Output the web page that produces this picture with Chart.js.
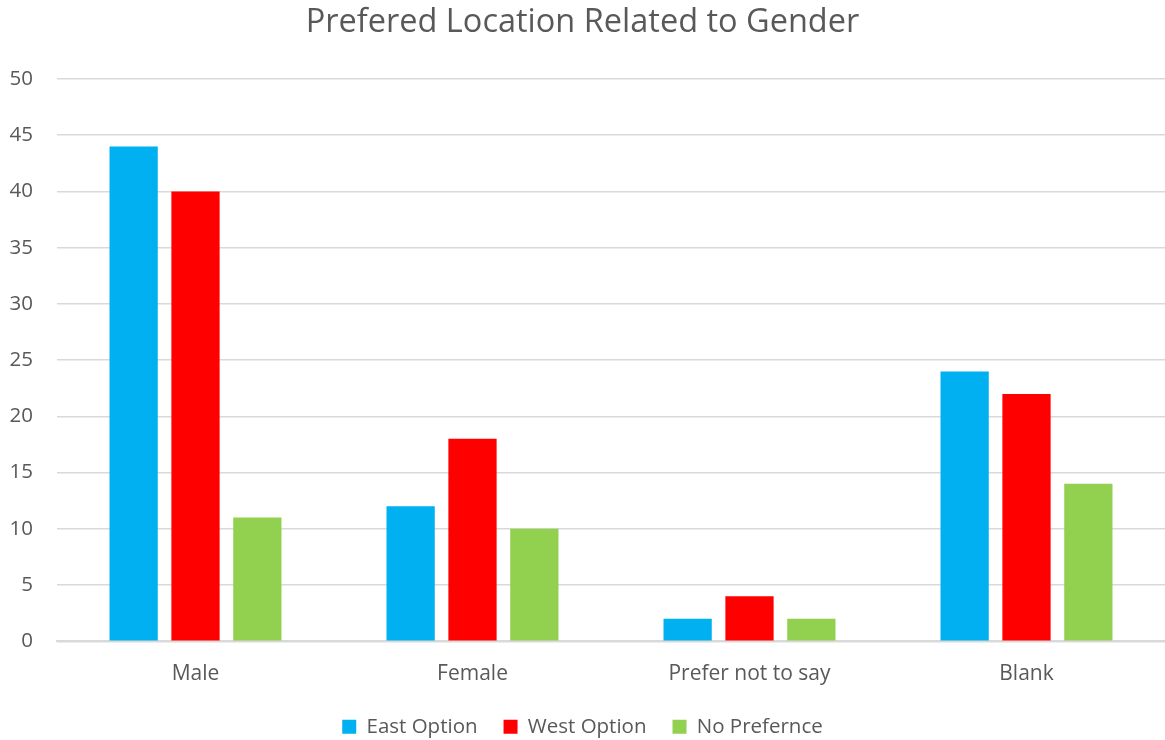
<!DOCTYPE html>
<html>
<head>
<meta charset="utf-8">
<script src="https://cdn.jsdelivr.net/npm/chart.js@4"></script>
<style>
  html, body { margin: 0; padding: 0; background: #fff; }
  #wrap { width: 1165px; height: 740px; }
</style>
</head>
<body>
<div id="wrap"><canvas id="chart"></canvas></div>
<script>
const categories = ["Male", "Female", "Prefer not to say", "Blank"];
const eastOption = [44, 12, 2, 24];
const westOption = [40, 18, 4, 22];
const noPreference = [11, 10, 2, 14];
const seriesNames = ["East Option", "West Option", "No Prefernce"];
const seriesColors = ["#00B0F0", "#FF0000", "#92D050"];

const textColor = "#595959";
const fontFamily = "'Open Sans', 'Noto Sans', sans-serif";

const datasets = [eastOption, westOption, noPreference].map((values, i) => ({
  label: seriesNames[i],
  data: values,
  backgroundColor: seriesColors[i],
  borderWidth: 0,
  barPercentage: 0.78,
  categoryPercentage: 0.67,
}));

new Chart(document.getElementById("chart"), {
  type: "bar",
  data: { labels: categories, datasets },
  options: {
    responsive: true,
    maintainAspectRatio: false,
    animation: false,
    layout: { padding: { left: 0, right: 0, top: 0, bottom: -7 } },
    plugins: {
      title: {
        display: true,
        text: "Prefered Location Related to Gender",
        color: textColor,
        font: { family: fontFamily, size: 32.5, weight: "normal" },
        padding: { top: 3, bottom: 37 },
      },
      legend: {
        position: "bottom",
        labels: {
          color: textColor,
          font: { family: fontFamily, size: 20.5 },
          boxWidth: 14,
          boxHeight: 14,
          padding: 26,
        },
      },
      tooltip: { enabled: false },
    },
    scales: {
      x: {
        grid: { display: false },
        border: { display: true, color: "#D9D9D9", width: 2 },
        ticks: {
          color: textColor,
          font: { family: fontFamily, size: 21 },
          padding: 12,
          maxRotation: 0,
        },
        afterFit: (axis) => { axis.height -= 8; },
      },
      y: {
        min: 0,
        max: 50,
        ticks: {
          stepSize: 5,
          color: textColor,
          font: { family: fontFamily, size: 20.5 },
          padding: 24,
        },
        grid: { color: "#D9D9D9", lineWidth: 1.5, drawTicks: false },
        border: { display: false },
        afterFit: (axis) => { axis.width = 57; },
      },
    },
  },
});
</script>
</body>
</html>
